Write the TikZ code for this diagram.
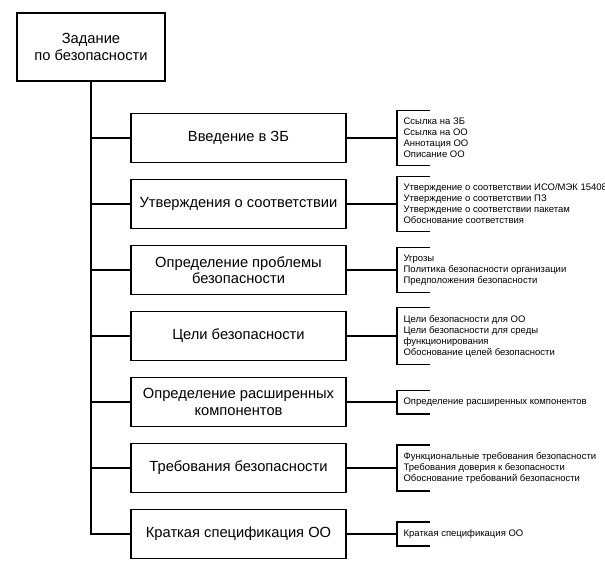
\documentclass[tikz,border=0pt]{standalone}
\usepackage{fontspec}
\setmainfont{Liberation Sans}
\begin{document}
\begin{tikzpicture}[x=1pt, y=-1pt, line width=1.2pt]
        \tikzstyle{every node}=[inner sep=0pt]
        \tikzstyle{part}=[draw, minimum width=215pt, minimum height=49pt, align=center, font=\fontsize{14.7}{16.5}\selectfont]
        \tikzstyle{items}=[anchor=west, align=left, inner xsep=6pt, inner ysep=7pt, font=\fontsize{9.5}{11}\selectfont]
        \useasboundingbox (0,0) rectangle (605,565);

        \path (91,47) node[part, minimum width=148pt, minimum height=68pt] (top) {Задание\\по безопасности};

        \foreach \i/\txt in {1/{Введение в ЗБ}, 2/{Утверждения о соответствии}, 3/{Определение проблемы\\безопасности}, 4/{Цели безопасности}, 5/{Определение расширенных\\компонентов}, 6/{Требования безопасности}, 7/{Краткая спецификация ОО}}
        {
          \path (238.5, 72+66*\i) node[part] (b\i) {\txt};
        }

        \foreach \i/\txt in {1/{Ссылка на ЗБ\\Ссылка на ОО\\Аннотация ОО\\Описание ОО}, 2/{Утверждение о соответствии ИСО/МЭК 15408\\Утверждение о соответствии ПЗ\\Утверждение о соответствии пакетам\\Обоснование соответствия}, 3/{Угрозы\\Политика безопасности организации\\Предположения безопасности}, 4/{Цели безопасности для ОО\\Цели безопасности для среды\\функционирования\\Обоснование целей безопасности}, 5/{Определение расширенных компонентов}, 6/{Функциональные требования безопасности\\Требования доверия к безопасности\\Обоснование требований безопасности}, 7/{Краткая спецификация ОО}}
        {
          \path (397, 72+66*\i) node[items] (l\i) {\txt};
        }

        \draw (top.south) |- (b7.west);
        \foreach \i in {1, ..., 6}
        {
          \draw (top.south |- b\i.west) -- (b\i.west);
        }

        \foreach \i in {1, ..., 7}
        {
          \draw (b\i.east) -- (l\i.west);
          \draw ([xshift=33pt]l\i.north west) -- (l\i.north west) -- (l\i.south west) -- ([xshift=33pt]l\i.south west);
        }
      \end{tikzpicture}
\end{document}
